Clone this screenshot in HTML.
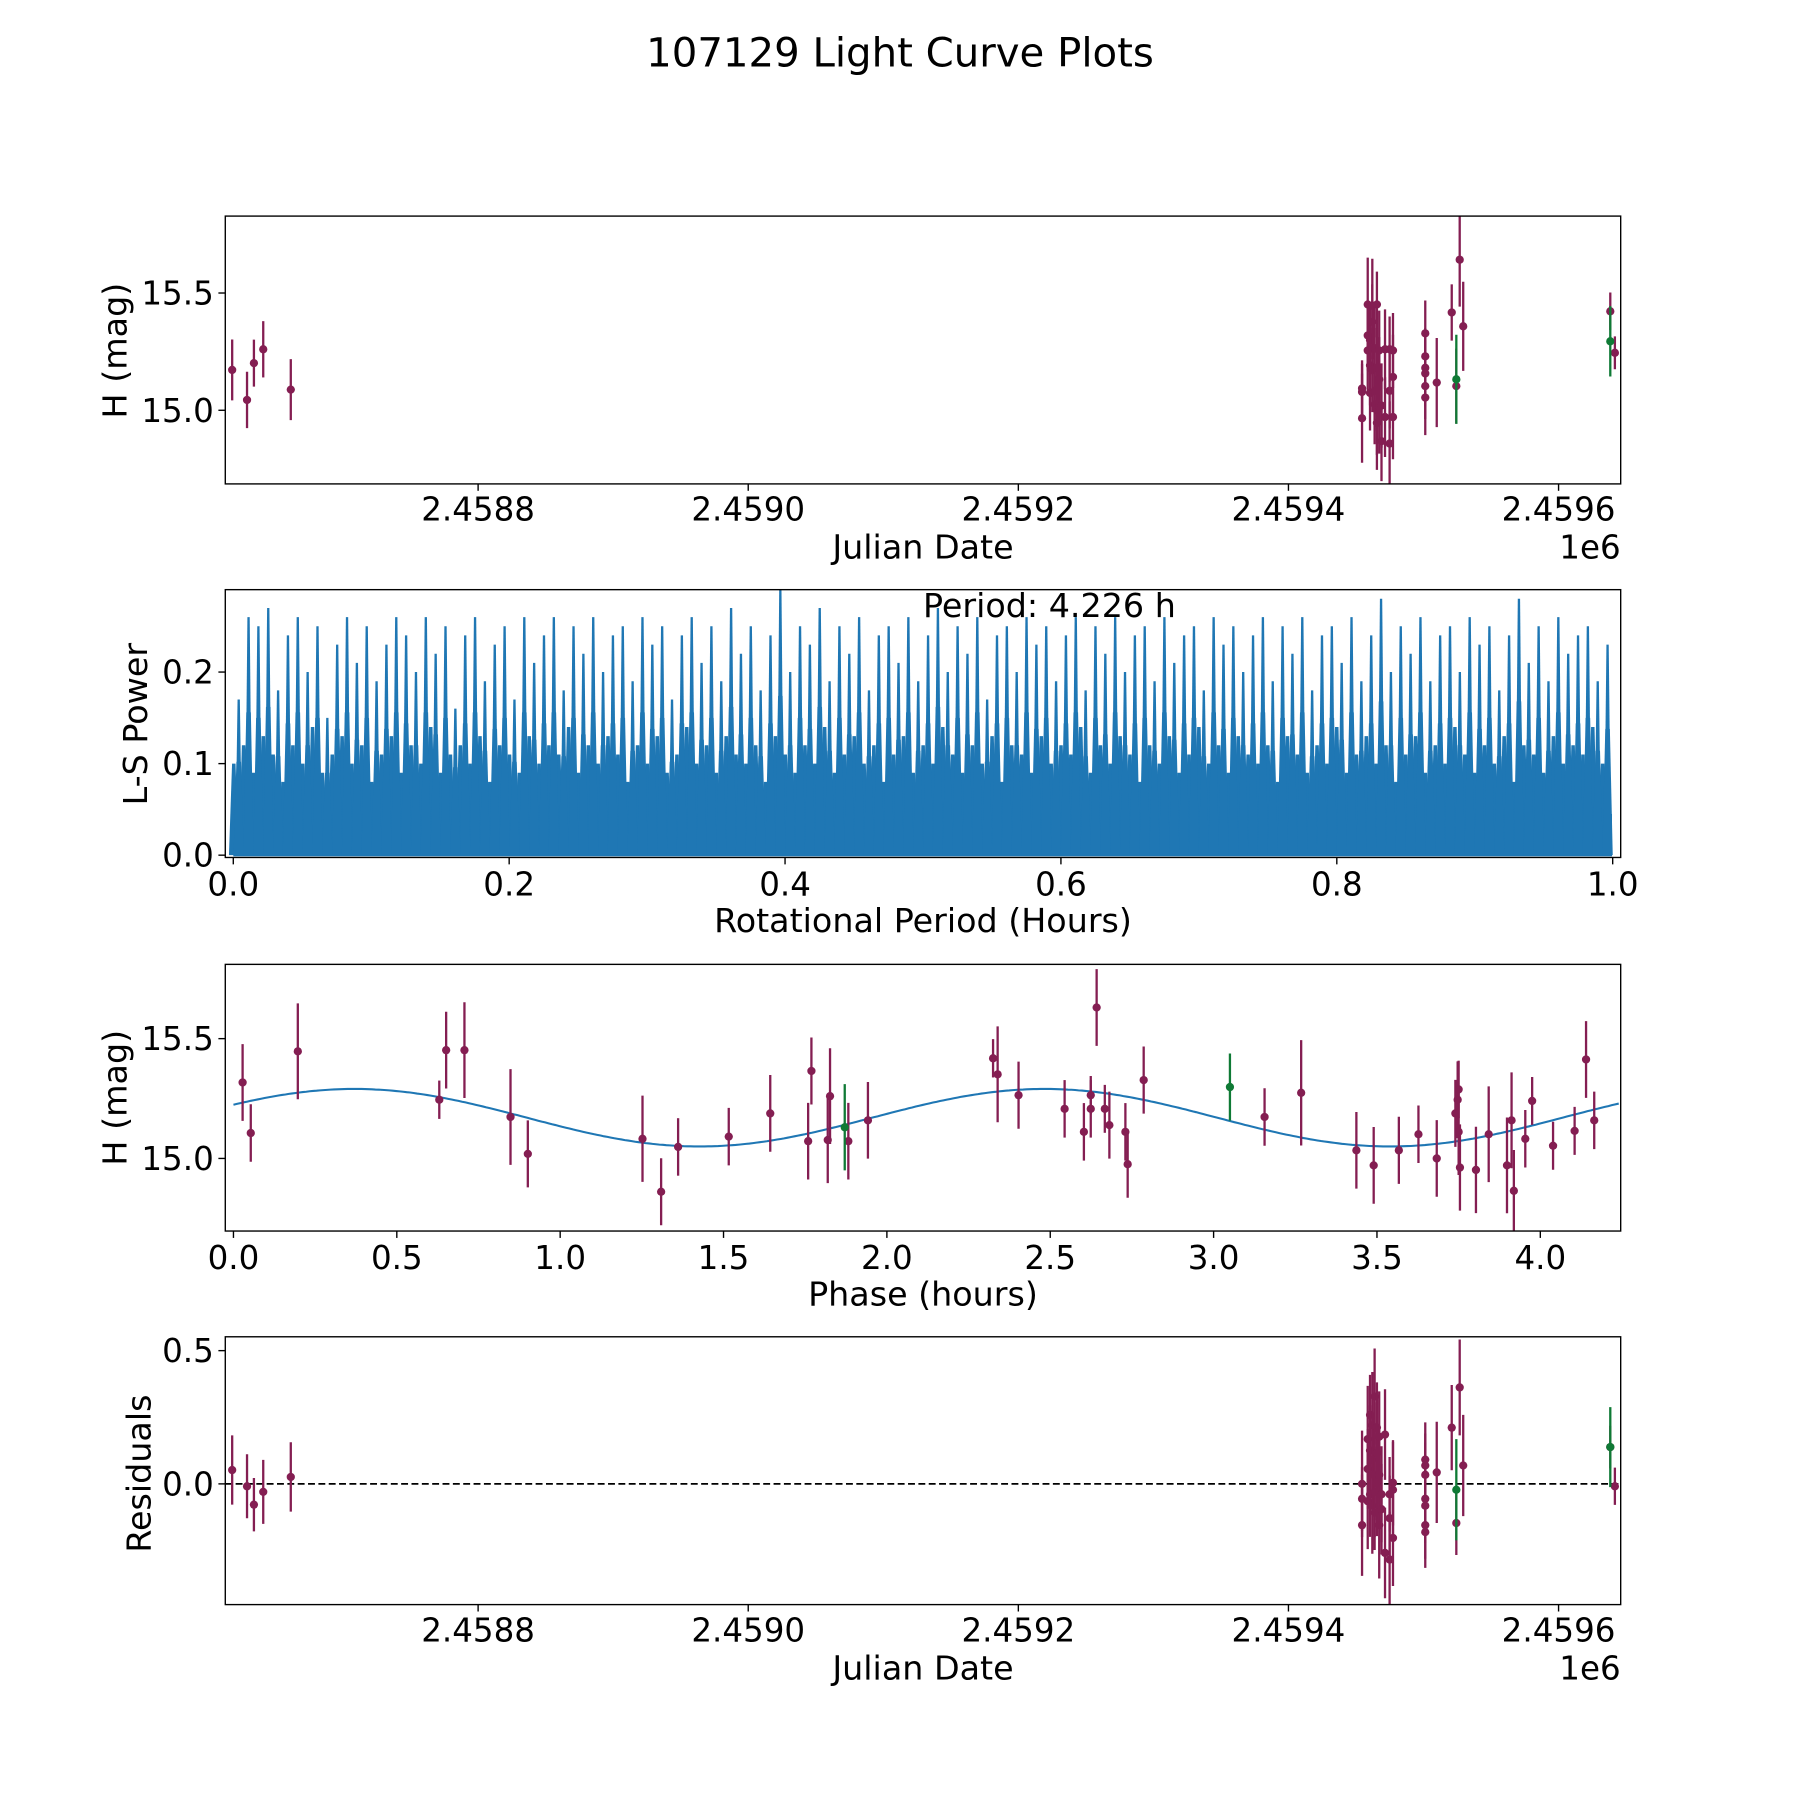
<!DOCTYPE html>
<html><head><meta charset="utf-8"><style>
html,body{margin:0;padding:0;background:#fff}
svg{display:block}
text{font-family:"DejaVu Sans","Liberation Sans",sans-serif;fill:#000}
</style></head><body>
<svg id="fig" width="1800" height="1800" viewBox="0 0 1566 1566" xmlns="http://www.w3.org/2000/svg">
<rect width="1566" height="1566" fill="#fff"/>
<text x="783" y="58" font-size="35" text-anchor="middle">107129 Light Curve Plots</text>
</svg>
<script>
// ---- Panel 1: light curve data ----
const jd = [2458617.9,2458628.9,2458634.0,2458640.9,2458661.3,
2459454.5,2459454.5,2459454.5,2459458.7,2459458.7,2459458.7,2459460.4,2459460.4,2459460.4,
2459462.1,2459462.1,2459462.1,2459463.8,2459463.8,2459463.8,2459465.5,2459465.5,2459465.5,2459465.5,
2459467.2,2459467.2,2459467.2,2459468.9,2459468.9,2459471.5,2459471.5,2459474.9,2459474.9,2459474.9,
2459477.4,2459477.4,2459477.4,2459501.3,2459501.3,2459501.3,2459501.3,2459501.3,2459501.3,
2459509.8,2459520.9,2459524.3,2459526.8,2459529.4,2459638.3,2459641.7];
const mag = [15.172,15.044,15.201,15.260,15.088,
15.093,15.078,14.966,15.451,15.319,15.255,15.299,15.191,15.074,
15.446,15.377,15.172,15.265,15.083,15.025,15.451,15.181,15.000,14.946,
15.255,15.132,15.015,15.020,14.868,15.260,14.971,15.260,15.083,14.858,
15.255,15.142,14.971,15.328,15.230,15.181,15.157,15.103,15.054,
15.118,15.417,15.103,15.642,15.358,15.422,15.245];
const magErr = [0.13,0.12,0.10,0.12,0.13,0.12,0.12,0.19,0.20,0.15,0.18,0.15,0.17,0.16,0.20,0.16,0.18,0.18,0.17,0.17,0.14,0.17,0.19,0.20,0.17,0.18,0.20,0.18,0.17,0.17,0.17,0.14,0.16,0.18,0.16,0.18,0.18,0.14,0.12,0.12,0.14,0.14,0.16,0.19,0.12,0.16,0.20,0.19,0.08,0.07];
const jdGreen = [2459524.3,2459638.3];
const magGreen = [15.132,15.294];
const errGreen = [0.19,0.15];
// ---- Panel 2: periodogram ----
const peakPower = [0.17,0.26,0.25,0.27,0.18,0.24,0.26,0.20,0.25,0.15,0.23,0.26,0.21,0.25,0.19,0.23,0.26,0.24,0.20,0.26,
0.22,0.25,0.16,0.24,0.26,0.19,0.23,0.25,0.17,0.26,0.21,0.24,0.26,0.18,0.25,0.22,0.26,0.20,0.24,0.25,
0.19,0.26,0.23,0.25,0.17,0.24,0.26,0.21,0.25,0.19,0.27,0.22,0.25,0.18,0.24,0.29,0.20,0.25,0.23,0.27,
0.19,0.25,0.22,0.26,0.18,0.24,0.25,0.21,0.26,0.19,0.24,0.27,0.20,0.25,0.22,0.26,0.17,0.24,0.25,0.20,
0.26,0.23,0.25,0.19,0.24,0.26,0.18,0.25,0.22,0.26,0.20,0.24,0.25,0.19,0.26,0.21,0.24,0.25,0.18,0.26,
0.23,0.25,0.20,0.24,0.26,0.19,0.25,0.22,0.26,0.18,0.24,0.25,0.21,0.26,0.19,0.24,0.28,0.20,0.25,0.22,
0.26,0.19,0.24,0.25,0.20,0.26,0.23,0.25,0.18,0.24,0.28,0.21,0.25,0.19,0.26,0.22,0.24,0.25,0.19,0.23];
const midPower = [0.10,0.12,0.09,0.13,0.11,0.08,0.12,0.10,0.14,0.09,0.11,0.13,0.10,0.12,0.08,0.11,0.13,0.09,0.12,0.10,
0.14,0.09,0.11,0.12,0.10,0.13,0.08,0.12,0.11,0.09,0.13,0.10,0.12,0.11,0.14,0.09,0.12,0.10,0.13,0.11,
0.08,0.12,0.10,0.13,0.09,0.11,0.14,0.10,0.12,0.09,0.13,0.11,0.10,0.12,0.08,0.13,0.11,0.09,0.12,0.10,
0.14,0.09,0.11,0.13,0.10,0.12,0.08,0.11,0.13,0.09,0.12,0.10,0.14,0.11,0.09,0.12,0.10,0.13,0.08,0.12,
0.11,0.09,0.13,0.10,0.12,0.11,0.14,0.09,0.12,0.10,0.13,0.11,0.08,0.12,0.10,0.13,0.09,0.11,0.14,0.10,
0.12,0.09,0.13,0.11,0.10,0.12,0.08,0.13,0.11,0.09,0.12,0.10,0.14,0.09,0.11,0.13,0.10,0.12,0.08,0.11,
0.13,0.09,0.12,0.10,0.14,0.11,0.09,0.12,0.10,0.13,0.08,0.12,0.11,0.09,0.13,0.10,0.12,0.11,0.14,0.10];
const periodTicks = [0.0,0.2,0.4,0.6,0.8,1.0];
const powerTicks = [0.0,0.1,0.2];
// ---- Panel 3: folded ----
const phase = [0.028,0.053,0.197,0.630,0.651,0.707,0.848,0.901,1.252,1.309,1.361,1.516,1.643,1.759,1.769,1.819,1.826,1.882,1.942,
2.325,2.339,2.403,2.544,2.603,2.624,2.624,2.642,2.667,2.681,2.730,2.737,2.786,3.156,3.268,3.437,3.490,3.567,3.627,3.683,
3.740,3.747,3.750,3.754,3.750,3.803,3.842,3.898,3.912,3.919,3.954,3.975,4.039,4.105,4.140,4.165];
const phaseMag = [15.317,15.106,15.447,15.245,15.452,15.452,15.173,15.019,15.082,14.861,15.048,15.091,15.188,15.072,15.365,15.077,15.260,15.072,15.159,
15.418,15.351,15.264,15.207,15.111,15.264,15.207,15.630,15.207,15.139,15.111,14.976,15.327,15.173,15.274,15.034,14.971,15.034,15.101,15.000,
15.188,15.245,15.111,14.962,15.288,14.952,15.101,14.971,15.159,14.865,15.082,15.240,15.053,15.115,15.413,15.159];
const phaseErr = [0.16,0.12,0.20,0.08,0.16,0.20,0.20,0.14,0.18,0.14,0.12,0.12,0.16,0.16,0.14,0.18,0.20,0.16,0.16,
0.08,0.20,0.14,0.12,0.12,0.08,0.12,0.16,0.10,0.14,0.12,0.14,0.14,0.12,0.22,0.16,0.16,0.14,0.12,0.16,
0.14,0.16,0.18,0.18,0.12,0.18,0.20,0.20,0.20,0.17,0.12,0.10,0.10,0.10,0.16,0.12];
const phaseGreen = [1.871,3.050];
const phaseMagGreen = [15.130,15.298];
const phaseErrGreen = [0.18,0.14];
const modelParams = [15.17,0.12,2.113,0.37]; // mean, amplitude, period, peak phase
const phaseTicks = [0.0,0.5,1.0,1.5,2.0,2.5,3.0,3.5,4.0];
// ---- Panel 4: residuals ----
const resJd = [2458617.9,2458628.9,2458634.0,2458640.9,2458661.3,
2459454.5,2459454.5,2459454.5,2459458.7,2459458.7,2459458.7,2459460.4,2459460.4,2459460.4,2459462.1,2459462.1,2459462.1,
2459463.8,2459463.8,2459463.8,2459463.8,2459465.5,2459465.5,2459465.5,2459467.2,2459467.2,2459467.2,2459468.9,2459468.9,
2459471.5,2459471.5,2459474.9,2459474.9,2459474.9,2459477.4,2459477.4,2459477.4,
2459501.3,2459501.3,2459501.3,2459501.3,2459501.3,2459501.3,2459501.3,2459509.8,2459520.9,2459524.3,2459526.8,2459529.4,2459638.3,2459641.7];
const resVal = [0.052,-0.009,-0.078,-0.030,0.026,
-0.056,-0.155,0.000,0.168,0.056,-0.065,0.259,0.125,-0.039,0.220,0.091,-0.082,
0.328,0.034,-0.030,-0.108,0.211,0.116,0.004,0.177,0.034,-0.155,-0.039,-0.095,
0.185,-0.259,-0.039,-0.129,-0.284,0.004,-0.203,-0.022,
0.091,0.069,0.034,-0.056,-0.082,-0.155,-0.181,0.043,0.211,-0.147,0.362,0.069,0.138,-0.009];
const resErr = [0.13,0.12,0.10,0.12,0.13,0.12,0.19,0.20,0.20,0.15,0.18,0.15,0.17,0.16,0.20,0.16,0.18,0.18,0.17,0.17,0.14,0.17,0.19,0.20,0.17,0.18,0.20,0.18,0.17,0.17,0.17,0.14,0.16,0.18,0.16,0.18,0.18,0.14,0.12,0.12,0.14,0.14,0.16,0.10,0.19,0.16,0.12,0.18,0.19,0.08,0.07];
const resJdGreen = [2459524.3,2459638.3];
const resGreen = [-0.022,0.138];
const resErrGreen = [0.19,0.15];
const jdTicks = [2458800,2459000,2459200,2459400,2459600];
const jdTickLabels = ["2.4588","2.4590","2.4592","2.4594","2.4596"];
const magTicks = [15.0,15.5];
const resTicks = [0.0,0.5];

const NS = "http://www.w3.org/2000/svg";
const fig = document.getElementById('fig');
const PURPLE = "#841e52", GREEN = "#0f7a35", BLUE = "#1f77b4";
const TICK_FS = 28.3, LABEL_FS = 29;
function el(tag, attrs, parent){const e=document.createElementNS(NS,tag);for(const k in attrs)e.setAttribute(k,attrs[k]);(parent||fig).appendChild(e);return e;}
function lin(d0,d1,r0,r1){return v=>r0+(v-d0)*(r1-r0)/(d1-d0);}
const L=196,R=1410;
function frame(top,bot,name){
  const g=el('g',{});
  
  
  return g;
}
function border(g,top,bot){
  const r=el('rect',{x:L,y:top,width:R-L,height:bot-top,fill:'none',stroke:'#000','stroke-width':1.2},g);
  
  
}
function xTicks(g,xs,vals,labels,bot,ty){
  vals.forEach((v,i)=>{
    const x=xs(v);
    el('line',{x1:x,x2:x,y1:bot,y2:bot+6,stroke:'#000','stroke-width':1.2},g);
    const t=el('text',{x:x,y:ty,'font-size':TICK_FS,'text-anchor':'middle'},g);
    
    
    t.textContent=labels[i];
  });
}
function yTicks(g,ys,vals,labels){
  vals.forEach((v,i)=>{
    const y=ys(v);
    el('line',{x1:L-6,x2:L,y1:y,y2:y,stroke:'#000','stroke-width':1.2},g);
    const t=el('text',{x:L-10,y:y+10,'font-size':TICK_FS,'text-anchor':'end'},g);
    
    
    t.textContent=labels[i];
  });
}
function label(g,txt,x,y,rot,name){
  const t=el('text',{x:x,y:y,'font-size':LABEL_FS,'text-anchor':'middle',transform:rot?`rotate(-90 ${x} ${y})`:''},g);
  
  
  t.textContent=txt;
}
function errpts(g,xs,ys,X,Y,E,color,clipId){
  const gg=el('g',{'clip-path':`url(#${clipId})`},g);
  X.forEach((xv,i)=>{
    const x=xs(xv);
    const ln=el('line',{x1:x,x2:x,y1:ys(Y[i]-E[i]),y2:ys(Y[i]+E[i]),stroke:color,'stroke-width':2},gg);
    
    
    const c=el('circle',{cx:x,cy:ys(Y[i]),r:3.6,fill:color},gg);
    
    
  });
}
const defs=el('defs',{});
function clip(id,top,bot){const c=el('clipPath',{id:id},defs);el('rect',{x:L,y:top,width:R-L,height:bot-top},c);}

// Panel 1
(function(){
  const top=188,bot=421;clip('c1',top,bot);
  const g=frame(top,bot,'light-curve-panel');
  const xs=lin(2458612.8,2459646,L,R), ys=lin(14.686,15.828,bot,top);
  errpts(g,xs,ys,jd,mag,magErr,PURPLE,'c1');
  errpts(g,xs,ys,jdGreen,magGreen,errGreen,GREEN,'c1');
  border(g,top,bot);
  xTicks(g,xs,jdTicks,jdTickLabels,bot,453);
  yTicks(g,ys,magTicks,magTicks.map(v=>v.toFixed(1)));
  label(g,'Julian Date',803,486,false,'x-axis-title');
  label(g,'H (mag)',110,305,true,'y-axis-title');
  const o=el('text',{x:R,y:486,'font-size':TICK_FS,'text-anchor':'end'},g);o.textContent='1e6';
  
  
})();

// Panel 2
(function(){
  const top=513,bot=746;clip('c2',top,bot);
  const g=frame(top,bot,'periodogram-panel');
  const xs=lin(-0.0058,1.0058,L,R), ys=lin(0,0.29,744,top);
  const gg=el('g',{'clip-path':'url(#c2)'},g);
  const p0=0.0,p1=0.9995;
  el('rect',{x:xs(p0),y:ys(0.045),width:xs(p1)-xs(p0),height:ys(0)-ys(0.045)+1,fill:BLUE},gg);
  const n=peakPower.length;
  midPower.forEach((v,i)=>{
    const c=p0+(i+0.05)*(p1-p0)/n, x=xs(c), w=4.2;
    const pg=el('polygon',{points:`${x-w},${ys(0)} ${x-1.5},${ys(v)} ${x+1.5},${ys(v)} ${x+w},${ys(0)}`,fill:BLUE},gg);
    
    
  });
  peakPower.forEach((v,i)=>{
    const c=p0+(i+0.55)*(p1-p0)/n, x=xs(c), w=3;
    const pg=el('polygon',{points:`${x-w},${ys(0)} ${x-1},${ys(v)} ${x+1},${ys(v)} ${x+w},${ys(0)}`,fill:BLUE},gg);
    
    
    el('polygon',{points:`${x-4.5},${ys(0)} ${x-2},${ys(v*0.6)} ${x+2},${ys(v*0.6)} ${x+4.5},${ys(0)}`,fill:BLUE},gg);
  });
  border(g,top,bot);
  xTicks(g,xs,periodTicks,periodTicks.map(v=>v.toFixed(1)),bot,779);
  yTicks(g,ys,powerTicks,powerTicks.map(v=>v.toFixed(1)));
  label(g,'Rotational Period (Hours)',803,811,false,'x-axis-title');
  label(g,'L-S Power',128,630,true,'y-axis-title');
  const t=el('text',{x:913,y:537,'font-size':LABEL_FS,'text-anchor':'middle'},g);t.textContent='Period: 4.226 h';
  
  
})();

// Panel 3
(function(){
  const top=839,bot=1071;clip('c3',top,bot);
  const g=frame(top,bot,'phase-folded-panel');
  const xs=lin(-0.025,4.246,L,R), ys=lin(14.697,15.81,bot,top);
  const [m,a,P,ph]=modelParams;
  let d='';
  for(let i=0;i<=400;i++){const x=4.24*i/400;const y=m+a*Math.cos(2*Math.PI*(x-ph)/P);d+=(i?'L':'M')+xs(x).toFixed(1)+','+ys(y).toFixed(1);}
  const c=el('path',{d:d,fill:'none',stroke:BLUE,'stroke-width':1.8},g);
  
  
  errpts(g,xs,ys,phase,phaseMag,phaseErr,PURPLE,'c3');
  errpts(g,xs,ys,phaseGreen,phaseMagGreen,phaseErrGreen,GREEN,'c3');
  border(g,top,bot);
  xTicks(g,xs,phaseTicks,phaseTicks.map(v=>v.toFixed(1)),bot,1104);
  yTicks(g,ys,magTicks,magTicks.map(v=>v.toFixed(1)));
  label(g,'Phase (hours)',803,1136,false,'x-axis-title');
  label(g,'H (mag)',110,955,true,'y-axis-title');
})();

// Panel 4
(function(){
  const top=1163,bot=1396;clip('c4',top,bot);
  const g=frame(top,bot,'residuals-panel');
  const xs=lin(2458612.8,2459646,L,R), ys=lin(-0.453,0.552,bot,top);
  const z=el('line',{x1:L,x2:R,y1:ys(0),y2:ys(0),stroke:'#000','stroke-width':1.5,'stroke-dasharray':'6,3'},g);
  
  
  errpts(g,xs,ys,resJd,resVal,resErr,PURPLE,'c4');
  errpts(g,xs,ys,resJdGreen,resGreen,resErrGreen,GREEN,'c4');
  border(g,top,bot);
  xTicks(g,xs,jdTicks,jdTickLabels,bot,1428);
  yTicks(g,ys,resTicks,resTicks.map(v=>v.toFixed(1)));
  label(g,'Julian Date',803,1461,false,'x-axis-title');
  label(g,'Residuals',131,1282,true,'y-axis-title');
  const o=el('text',{x:R,y:1461,'font-size':TICK_FS,'text-anchor':'end'},g);o.textContent='1e6';
  
  
})();
</script>
</body></html>
